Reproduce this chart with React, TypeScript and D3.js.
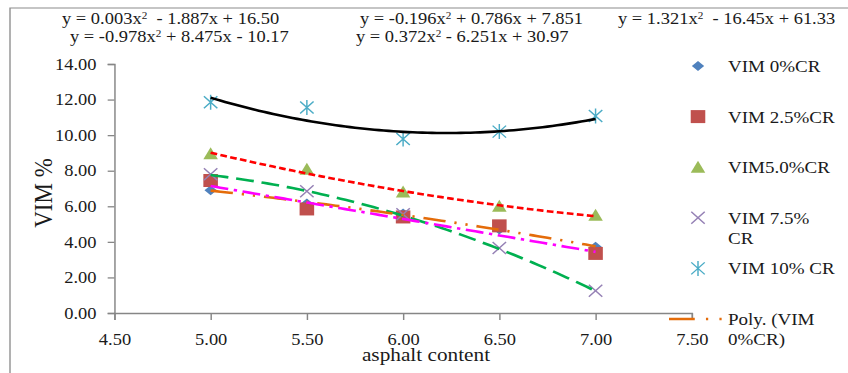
import { useEffect, useRef } from 'react'
import * as d3 from 'd3'

// asphalt content (x) and VIM % for each crumb-rubber level
const asphalt = [5.0, 5.5, 6.0, 6.5, 7.0]
const vim0 = [6.9, 6.15, 5.6, 4.7, 3.72]
const vim25 = [7.45, 5.85, 5.4, 4.9, 3.35]
const vim50 = [8.95, 8.08, 6.8, 6.0, 5.5]
const vim75 = [7.8, 6.85, 5.55, 3.65, 1.25]
const vim10 = [11.85, 11.55, 9.78, 10.2, 11.08]

// polynomial trendline coefficients [a, b, c] for a x^2 + b x + c
const trend0 = [-0.196, 0.786, 7.851]
const trend25 = [0.003, -1.887, 16.5]
const trend50 = [0.372, -6.251, 30.97]
const trend75 = [-0.978, 8.475, -10.17]
const trend10 = [1.321, -16.45, 61.33]

const equations = [
  ['y = 0.003x', '2', '  - 1.887x + 16.50'],
  ['y = -0.978x', '2', ' + 8.475x - 10.17'],
  ['y = -0.196x', '2', ' + 0.786x + 7.851'],
  ['y = 0.372x', '2', ' - 6.251x + 30.97'],
  ['y = 1.321x', '2', '  - 16.45x + 61.33'],
]

const xTicks = [4.5, 5.0, 5.5, 6.0, 6.5, 7.0, 7.5]
const yTicks = [0, 2, 4, 6, 8, 10, 12, 14]

const legendLabels = [
  ['VIM 0%CR'],
  ['VIM 2.5%CR'],
  ['VIM5.0%CR'],
  ['VIM 7.5%', 'CR'],
  ['VIM 10% CR'],
  ['Poly. (VIM', '0%CR)'],
]

export default function App() {
  const svgRef = useRef<SVGSVGElement>(null)

  useEffect(() => {
    if (!svgRef.current) return
    const W = 848
    const H = 373
    const SX = 1.12 // the picture is stretched horizontally
    const VW = W / SX
    const font = "'Liberation Serif', 'Times New Roman', serif"
    const axisColor = '#868686'
    const textColor = '#1a1a1a'

    const root = d3.select(svgRef.current)
    root.selectAll('*').remove()
    root
      .attr('width', W)
      .attr('height', H)
      .attr('viewBox', `0 0 ${VW} ${H}`)
      .attr('preserveAspectRatio', 'none')

    root.append('rect').attr('width', VW).attr('height', H).attr('fill', '#fff')

    // outer chart border (left and top visible)
    root
      .append('path')
      .attr('d', `M${10 / SX},${H}V8H${VW}`)
      .attr('fill', 'none')
      .attr('stroke', '#8c8c8c')
      .attr('stroke-width', 1.2)

    const x = d3.scaleLinear().domain([4.5, 7.5]).range([114.4 / SX, 691.8 / SX])
    const y = d3.scaleLinear().domain([0, 14]).range([313, 64])

    // axes
    const yAxis = root
      .append('g')
      .attr('transform', `translate(${x(4.5)},0)`)
      .call(
        d3
          .axisLeft(y)
          .tickValues(yTicks)
          .tickFormat(d3.format('.2f'))
          .tickSizeOuter(0)
          .tickSize(6)
          .tickPadding(10)
      )
    const xAxis = root
      .append('g')
      .attr('transform', `translate(0,${y(0)})`)
      .call(
        d3
          .axisBottom(x)
          .tickValues(xTicks)
          .tickFormat(d3.format('.2f'))
          .tickSizeOuter(0)
          .tickSize(7)
          .tickPadding(13)
      )
    for (const g of [xAxis, yAxis]) {
      g.select('.domain').attr('stroke', axisColor).attr('stroke-width', 1.3)
      g.selectAll('.tick line').attr('stroke', axisColor).attr('stroke-width', 1.3)
      g.selectAll('.tick text')
        .attr('fill', textColor)
        .attr('font-family', font)
        .attr('font-size', 16.5)
    }

    // axis titles
    root
      .append('text')
      .attr('transform', `translate(${52 / SX},193) rotate(-90)`)
      .attr('text-anchor', 'middle')
      .attr('font-family', font)
      .attr('font-size', 23)
      .attr('fill', textColor)
      .text('VIM %')
    root
      .append('text')
      .attr('x', 426 / SX)
      .attr('y', 361)
      .attr('text-anchor', 'middle')
      .attr('font-family', font)
      .attr('font-size', 19)
      .attr('fill', textColor)
      .text('asphalt content')

    // markers
    const markers = [
      { vals: vim0, d: 'M0,-5L5.5,0L0,5L-5.5,0Z', fill: '#4F81BD', stroke: 'none' },
      { vals: vim25, d: 'M-6.5,-6.5H6.5V6.5H-6.5Z', fill: '#C0504D', stroke: 'none' },
      { vals: vim50, d: 'M0,-6.5L6.5,5.5L-6.5,5.5Z', fill: '#9BBB59', stroke: 'none' },
      { vals: vim75, d: 'M-6,-6L6,6M-6,6L6,-6', fill: 'none', stroke: '#9581B5' },
      { vals: vim10, d: 'M-6,-6L6,6M-6,6L6,-6M0,-7.5V7.5', fill: 'none', stroke: '#4BACC6' },
    ]
    markers.forEach(m => {
      root
        .append('g')
        .selectAll('path')
        .data(m.vals)
        .enter()
        .append('path')
        .attr('transform', (v, i) => `translate(${x(asphalt[i])},${y(v)})`)
        .attr('d', m.d)
        .attr('fill', m.fill)
        .attr('stroke', m.stroke)
        .attr('stroke-width', 1.3)
    })

    // trendlines
    const trends = [
      { c: trend10, color: '#000000', dash: null },
      { c: trend50, color: '#FF0000', dash: '6,3' },
      { c: trend75, color: '#00B050', dash: '16,7' },
      { c: trend0, color: '#E46C0A', dash: '20,8,2,8,2,8' },
      { c: trend25, color: '#FF00FF', dash: '16,5,3,5' },
    ]
    const xs = d3.range(5, 7.0001, 0.025)
    const poly = (c: number[], t: number) => c[0] * t * t + c[1] * t + c[2]
    trends.forEach(t => {
      root
        .append('path')
        .attr(
          'd',
          d3
            .line<number>()
            .x(v => x(v))
            .y(v => y(poly(t.c, v)))(xs)
        )
        .attr('fill', 'none')
        .attr('stroke', t.color)
        .attr('stroke-width', 2.6)
        .attr('stroke-dasharray', t.dash)
    })

    // equations
    const eqPos = [
      [62, 24],
      [70, 42],
      [360, 24],
      [356, 42],
      [618, 24],
    ]
    equations.forEach((eq, i) => {
      const t = root
        .append('text')
        .attr('x', eqPos[i][0] / SX)
        .attr('y', eqPos[i][1])
        .attr('font-family', font)
        .attr('font-size', 16.5)
        .attr('fill', textColor)
        .attr('xml:space', 'preserve')
        .style('white-space', 'pre')
      t.append('tspan').text(eq[0])
      t.append('tspan').attr('font-size', 10).attr('dy', -5).text(eq[1])
      t.append('tspan').attr('dy', 5).text(eq[2])
    })

    // legend
    const lx = 698 / SX
    const tx = 728 / SX
    legendLabels.forEach((lines, i) => {
      const cy = 66 + i * 50.6
      const g = root.append('g').attr('transform', `translate(${lx},${cy})`)
      if (i < markers.length) {
        const m = markers[i]
        g.append('path')
          .attr('d', m.d)
          .attr('fill', m.fill)
          .attr('stroke', m.stroke)
          .attr('stroke-width', 1.3)
      } else {
        g.append('path')
          .attr('d', `M${-29 / SX},0H${26 / SX}`)
          .attr('stroke', '#E46C0A')
          .attr('stroke-width', 2.6)
          .attr('stroke-dasharray', '23,10,2,10,2,10')
      }
      lines.forEach((ln, j) => {
        root
          .append('text')
          .attr('x', tx)
          .attr('y', cy + 6 + j * 20)
          .attr('font-family', font)
          .attr('font-size', 17)
          .attr('fill', textColor)
          .text(ln)
      })
    })
  }, [])

  return (
    <div style={{ position: 'absolute', left: 0, top: 0 }}>
      <svg ref={svgRef}></svg>
    </div>
  )
}
